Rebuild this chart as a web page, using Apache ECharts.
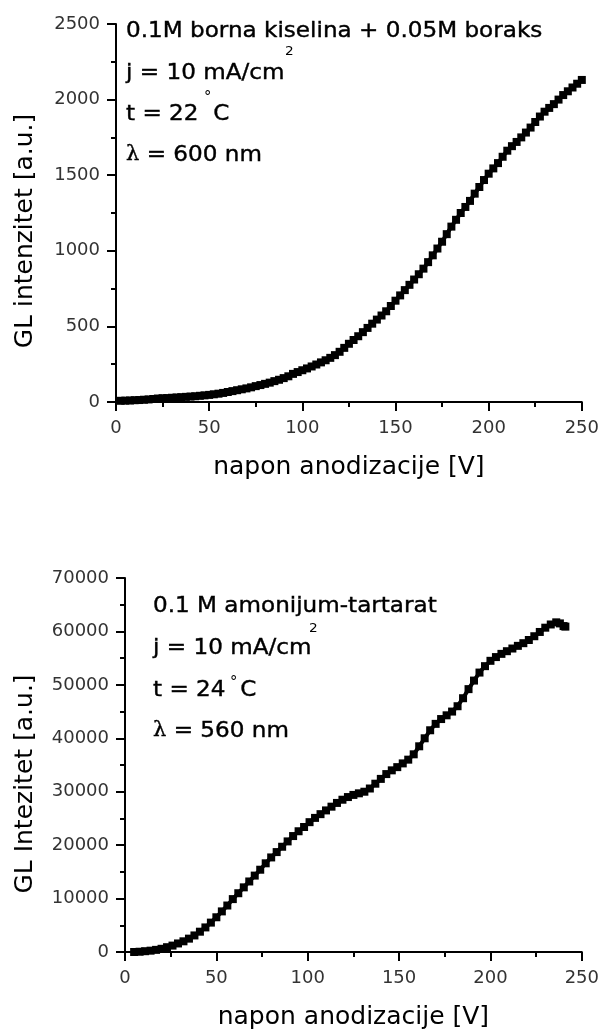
<!DOCTYPE html>
<html lang="sr">
<head>
    <meta charset="utf-8" />
    <title>GL intenzitet</title>
    <script type="text/javascript" src="https://cdn.jsdelivr.net/npm/echarts@6/dist/echarts.min.js"></script>
    <style type="text/css">
        html, body { margin: 0; padding: 0; background: #fff; }
    </style>
</head>
<body>
    <div id="main" style="width:602px;height:1032px;"></div>

    <script type="text/javascript">
        // gornji grafik: 0.1M borna kiselina + 0.05M boraks
        var topVolts = [2.5, 5, 7.5, 10, 12.5, 15, 17.5, 20, 22.5, 25, 27.5, 30, 32.5, 35, 37.5, 40, 42.5, 45, 47.5, 50,
            52.5, 55, 57.5, 60, 62.5, 65, 67.5, 70, 72.5, 75, 77.5, 80, 82.5, 85, 87.5, 90, 92.5, 95, 97.5, 100,
            102.5, 105, 107.5, 110, 112.5, 115, 117.5, 120, 122.5, 125, 127.5, 130, 132.5, 135, 137.5, 140, 142.5, 145, 147.5, 150,
            152.5, 155, 157.5, 160, 162.5, 165, 167.5, 170, 172.5, 175, 177.5, 180, 182.5, 185, 187.5, 190, 192.5, 195, 197.5, 200,
            202.5, 205, 207.5, 210, 212.5, 215, 217.5, 220, 222.5, 225, 227.5, 230, 232.5, 235, 237.5, 240, 242.5, 245, 247.5, 250];
        var topIntensity = [8, 9, 10, 12, 13, 15, 17, 20, 23, 25, 26, 28, 30, 32, 34, 36, 38, 41, 44, 47,
            51, 55, 60, 66, 72, 78, 84, 90, 97, 105, 112, 120, 128, 138, 147, 158, 170, 186, 198, 210,
            222, 235, 248, 262, 276, 292, 310, 332, 358, 385, 410, 435, 462, 490, 518, 545, 572, 600, 635, 670,
            705, 740, 775, 810, 845, 882, 925, 970, 1015, 1060, 1110, 1160, 1205, 1250, 1290, 1330, 1378, 1422, 1468, 1510,
            1545, 1580, 1622, 1662, 1692, 1720, 1750, 1782, 1815, 1852, 1888, 1920, 1945, 1970, 2000, 2030, 2055, 2080, 2105, 2130];

        // donji grafik: 0.1 M amonijum-tartarat
        var botVolts = [5, 8, 11, 14, 17, 20, 23, 26, 29, 32, 35, 38, 41, 44, 47, 50, 53, 56, 59, 62,
            65, 68, 71, 74, 77, 80, 83, 86, 89, 92, 95, 98, 101, 104, 107, 110, 113, 116, 119, 122,
            125, 128, 131, 134, 137, 140, 143, 146, 149, 152, 155, 158, 161, 164, 167, 170, 173, 176, 179, 182,
            185, 188, 191, 194, 197, 200, 203, 206, 209, 212, 215, 218, 221, 224, 227, 230, 233, 236, 238, 240, 241];
        var botIntensity = [0, 50, 150, 250, 400, 600, 900, 1200, 1600, 2000, 2500, 3100, 3800, 4600, 5500, 6500, 7600, 8700, 9900, 11000,
            12100, 13200, 14300, 15400, 16600, 17700, 18700, 19700, 20700, 21700, 22600, 23400, 24300, 25100, 25800, 26500, 27200, 27900, 28500, 29000,
            29400, 29700, 30000, 30600, 31500, 32400, 33300, 34000, 34600, 35300, 36000, 37000, 38500, 40000, 41500, 42700, 43600, 44300, 45000, 46000,
            47500, 49200, 50800, 52300, 53500, 54500, 55200, 55800, 56300, 56800, 57300, 57800, 58400, 59100, 59900, 60700, 61300, 61700, 61500, 61000, 60900];

        var xTicks = [0, 50, 100, 150, 200, 250];
        var topYTicks = [0, 500, 1000, 1500, 2000, 2500];
        var botYTicks = [0, 10000, 20000, 30000, 40000, 50000, 60000, 70000];

        var topData = topVolts.map(function (v, i) { return [v, topIntensity[i]]; });
        var botData = botVolts.map(function (v, i) { return [v, botIntensity[i]]; });

        var labelFont = 'DejaVu Sans';
        var myChart = echarts.init(document.getElementById('main'), null, { renderer: 'canvas' });

        function xAxisOpt(idx, ticks) {
            return {
                type: 'value', gridIndex: idx,
                min: ticks[0], max: ticks[ticks.length - 1], interval: 50,
                name: 'napon anodizacije [V]', nameLocation: 'middle', nameGap: 53,
                nameTextStyle: { fontFamily: labelFont, fontSize: 25, color: '#000' },
                axisLine: { show: true, onZero: false, lineStyle: { color: '#000', width: 2 } },
                axisTick: { show: true, inside: false, length: 9, lineStyle: { color: '#000', width: 2 } },
                minorTick: { show: true, splitNumber: 2, length: 5, lineStyle: { color: '#000', width: 2 } },
                axisLabel: { margin: 17, fontFamily: labelFont, fontSize: 18, color: '#333', formatter: function (v) { return String(v); } },
                splitLine: { show: false }
            };
        }

        function yAxisOpt(idx, ticks) {
            return {
                type: 'value', gridIndex: idx,
                min: ticks[0], max: ticks[ticks.length - 1], interval: ticks[1] - ticks[0],
                axisLine: { show: true, onZero: false, lineStyle: { color: '#000', width: 2 } },
                axisTick: { show: true, inside: false, length: 9, lineStyle: { color: '#000', width: 2 } },
                minorTick: { show: true, splitNumber: 2, length: 5, lineStyle: { color: '#000', width: 2 } },
                axisLabel: { margin: 16, fontFamily: labelFont, fontSize: 18, color: '#333', formatter: function (v) { return String(v); } },
                splitLine: { show: false }
            };
        }

        function note(x, y, text, size, extra) {
            var el = {
                type: 'text', x: x, y: y, scaleX: 1.05, silent: true,
                style: {
                    text: text, fontFamily: labelFont, fontSize: size, fill: '#000',
                    stroke: '#000', lineWidth: size > 16 ? 0.4 : 0,
                    align: 'left', verticalAlign: 'middle'
                }
            };
            if (extra) { el.style.rich = extra; }
            return el;
        }

        var lambdaRich = { l: { fontFamily: 'DejaVu Serif', fontSize: 20, fill: '#000' } };

        var option = {
            animation: false,
            backgroundColor: '#fff',
            grid: [
                { left: 116, right: 17, top: 24, bottom: 630, containLabel: false },
                { left: 125, right: 17, top: 578, bottom: 80, containLabel: false }
            ],
            xAxis: [xAxisOpt(0, xTicks), xAxisOpt(1, xTicks)],
            yAxis: [yAxisOpt(0, topYTicks), yAxisOpt(1, botYTicks)],
            series: [{
                type: 'line', xAxisIndex: 0, yAxisIndex: 0,
                data: topData,
                symbol: 'rect', symbolSize: 8, showAllSymbol: true,
                lineStyle: { color: '#000', width: 4 },
                itemStyle: { color: '#000' }
            }, {
                type: 'line', xAxisIndex: 1, yAxisIndex: 1,
                data: botData,
                symbol: 'rect', symbolSize: 8, showAllSymbol: true,
                lineStyle: { color: '#000', width: 4 },
                itemStyle: { color: '#000' }
            }],
            graphic: [
                // nazivi y osa
                {
                    type: 'text', x: 25, y: 231, rotation: Math.PI / 2, silent: true,
                    style: { text: 'GL intenzitet [a.u.]', fontFamily: labelFont, fontSize: 25, fill: '#000', align: 'center', verticalAlign: 'middle' }
                },
                {
                    type: 'text', x: 25, y: 784, rotation: Math.PI / 2, silent: true,
                    style: { text: 'GL Intezitet [a.u.]', fontFamily: labelFont, fontSize: 25, fill: '#000', align: 'center', verticalAlign: 'middle' }
                },
                // gornji tekst
                note(126, 31, '0.1M borna kiselina + 0.05M boraks', 22),
                note(126, 73, 'j = 10 mA/cm', 22),
                note(285, 52, '2', 13),
                note(126, 114, 't = 22  C', 22),
                note(204, 97, '°', 14),
                note(126, 155, '{l|λ} = 600 nm', 22, lambdaRich),
                // donji tekst
                note(153, 606, '0.1 M amonijum-tartarat', 22),
                note(153, 648, 'j = 10 mA/cm', 22),
                note(309, 629, '2', 13),
                note(153, 690, 't = 24  C', 22),
                note(230, 682, '°', 14),
                note(153, 731, '{l|λ} = 560 nm', 22, lambdaRich)
            ]
        };
        myChart.setOption(option);
    </script>
</body>
</html>
